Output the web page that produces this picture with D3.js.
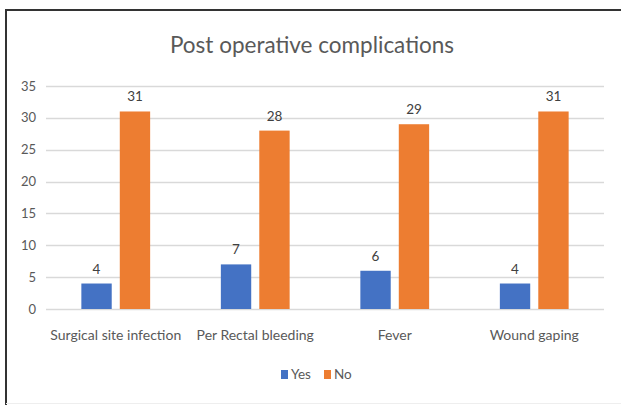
<!DOCTYPE html>
<html>
<head>
<meta charset="utf-8">
<script src="https://cdn.jsdelivr.net/npm/d3@7"></script>
<style>
  body { margin: 0; background: #fff; }
  text { font-family: Lato, "Open Sans", sans-serif; }
</style>
</head>
<body>
<svg width="621" height="405"></svg>
<script>
// chart data
const categories = ["Surgical site infection", "Per Rectal bleeding", "Fever", "Wound gaping"];
const series = ["Yes", "No"];
const yesValues = [4, 7, 6, 4];
const noValues = [31, 28, 29, 31];
const yTicks = [0, 5, 10, 15, 20, 25, 30, 35];
const colors = ["#4472C4", "#ED7D31"];

const rows = categories.map((c, i) => ({cat: c, Yes: yesValues[i], No: noValues[i]}));

const svg = d3.select("svg");
const textColor = "#595959";

// frame
svg.append("line").attr("x1", 5).attr("x2", 621).attr("y1", 10).attr("y2", 10)
    .attr("stroke", "#333").attr("stroke-width", 2);
svg.append("line").attr("x1", 6).attr("x2", 6).attr("y1", 9).attr("y2", 405)
    .attr("stroke", "#333").attr("stroke-width", 2);
svg.append("line").attr("x1", 6).attr("x2", 621).attr("y1", 403.5).attr("y2", 403.5)
    .attr("stroke", "#eee").attr("stroke-width", 1);

const margin = {left: 46, right: 604, top: 86, bottom: 309};

const x = d3.scaleBand().domain(categories).range([margin.left, margin.right]);
const x1 = d3.scaleBand().domain(series).range([0, x.bandwidth()]).paddingInner(0.21).paddingOuter(0.92);
const y = d3.scaleLinear().domain([0, 35]).range([margin.bottom, margin.top]);

// title
svg.append("text")
    .attr("x", 312)
    .attr("y", 53)
    .attr("text-anchor", "middle")
    .attr("font-size", 22.5)
    .attr("fill", textColor)
    .text("Post operative complications");

// gridlines
svg.append("g")
  .selectAll("line")
  .data(yTicks)
  .join("line")
    .attr("x1", margin.left)
    .attr("x2", margin.right)
    .attr("y1", d => Math.round(y(d)) + 0.5)
    .attr("y2", d => Math.round(y(d)) + 0.5)
    .attr("stroke", "#d9d9d9")
    .attr("stroke-width", 1.5);

// y axis labels
svg.append("g")
  .selectAll("text")
  .data(yTicks)
  .join("text")
    .attr("x", 36)
    .attr("y", d => y(d))
    .attr("dy", "0.35em")
    .attr("text-anchor", "end")
    .attr("font-size", 13)
    .attr("fill", textColor)
    .text(d => d);

// bars
const group = svg.append("g")
  .selectAll("g")
  .data(rows)
  .join("g")
    .attr("transform", d => `translate(${x(d.cat)},0)`);

group.selectAll("rect")
  .data(d => series.map((s, i) => ({key: s, value: d[s], i: i})))
  .join("rect")
    .attr("x", d => x1(d.key))
    .attr("width", x1.bandwidth())
    .attr("y", d => y(d.value))
    .attr("height", d => y(0) - y(d.value))
    .attr("fill", d => colors[d.i]);

group.selectAll("text")
  .data(d => series.map((s, i) => ({key: s, value: d[s], i: i})))
  .join("text")
    .attr("x", d => x1(d.key) + x1.bandwidth() / 2)
    .attr("y", d => y(d.value) - 10)
    .attr("text-anchor", "middle")
    .attr("font-size", 13.5)
    .attr("fill", "#404040")
    .text(d => d.value);

// category labels
svg.append("g")
  .selectAll("text")
  .data(categories)
  .join("text")
    .attr("x", d => x(d) + x.bandwidth() / 2)
    .attr("y", 340)
    .attr("text-anchor", "middle")
    .attr("font-size", 14)
    .attr("fill", textColor)
    .text(d => d);

// legend
const legend = svg.append("g").attr("transform", "translate(281,369)");
const items = legend.selectAll("g")
  .data(series)
  .join("g")
    .attr("transform", (d, i) => `translate(${i * 43},0)`);
items.append("rect")
    .attr("width", 7).attr("height", 9).attr("y", 1)
    .attr("fill", (d, i) => colors[i]);
items.append("text")
    .attr("x", 10)
    .attr("y", 10)
    .attr("font-size", 13.5)
    .attr("fill", textColor)
    .text(d => d);
</script>
</body>
</html>
